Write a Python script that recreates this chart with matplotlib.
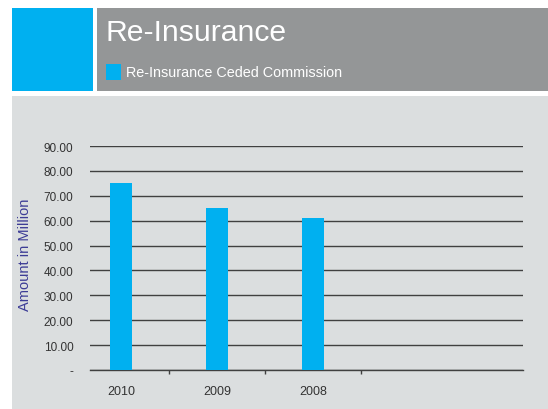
import matplotlib.pyplot as plt
from matplotlib.patches import Rectangle
import numpy as np

plt.rcParams['font.family'] = ['Liberation Sans', 'DejaVu Sans']

years = ['2010', '2009', '2008']
commission = [75.3, 65.1, 61.0]
y_ticks = [0, 10, 20, 30, 40, 50, 60, 70, 80, 90]
y_tick_labels = ['-', '10.00', '20.00', '30.00', '40.00', '50.00',
                 '60.00', '70.00', '80.00', '90.00']

blue = '#00b0f0'
header_gray = '#949697'
panel_gray = '#dbdedf'
W, H = 548, 410

fig = plt.figure(figsize=(W / 100, H / 100), dpi=100)
fig.patch.set_facecolor('white')


def px_rect(x0, y0, x1, y1, color, z=-1):
    # rectangle given in pixel coords, origin top-left
    fig.patches.append(Rectangle((x0 / W, 1 - y1 / H), (x1 - x0) / W, (y1 - y0) / H,
                                 transform=fig.transFigure, facecolor=color,
                                 edgecolor='none', zorder=z))


# header blocks and chart panel
px_rect(12, 9, 93, 92, blue)
px_rect(97, 9, W, 92, header_gray)
px_rect(12, 97, W, H, panel_gray)

fig.text(105 / W, 1 - 33 / H, 'Re-Insurance', color='white', fontsize=21.7,
         va='center', ha='left')
px_rect(106, 65, 121, 81, blue, z=1)
fig.text(126 / W, 1 - 73 / H, 'Re-Insurance Ceded Commission', color='white',
         fontsize=10.4, va='center', ha='left')

ax = fig.add_axes([90 / W, 1 - 371 / H, (523 - 90) / W, (371 - 147) / H])
ax.set_facecolor('none')

x = np.arange(len(years))
ax.bar(x, commission, width=0.23, color=blue, zorder=3)

ax.set_ylim(0, 90)
ax.set_xlim(-0.323, 4.19)
ax.set_yticks(y_ticks)
ax.set_yticklabels(y_tick_labels)
ax.yaxis.grid(True, color='#404040', linewidth=1.0, zorder=1)
ax.set_axisbelow(True)
ax.tick_params(axis='y', length=0, pad=12, labelsize=8.5, labelcolor='#333333')

ax.set_xticks(x)
ax.set_xticklabels(years)
ax.tick_params(axis='x', length=0, pad=11, labelsize=9, labelcolor='#333333')
ax.set_xticks(x + 0.5, minor=True)
ax.tick_params(axis='x', which='minor', length=3, width=1, color='#404040',
               direction='out')

for side in ['top', 'right', 'left']:
    ax.spines[side].set_visible(False)
ax.spines['bottom'].set_color('#404040')
ax.spines['bottom'].set_linewidth(1.0)

fig.text(25 / W, 1 - 255 / H, 'Amount in Million', color='#3c3c96', fontsize=10.5,
         rotation=90, va='center', ha='center')

fig.savefig('out.png', dpi=100, facecolor=fig.get_facecolor())
